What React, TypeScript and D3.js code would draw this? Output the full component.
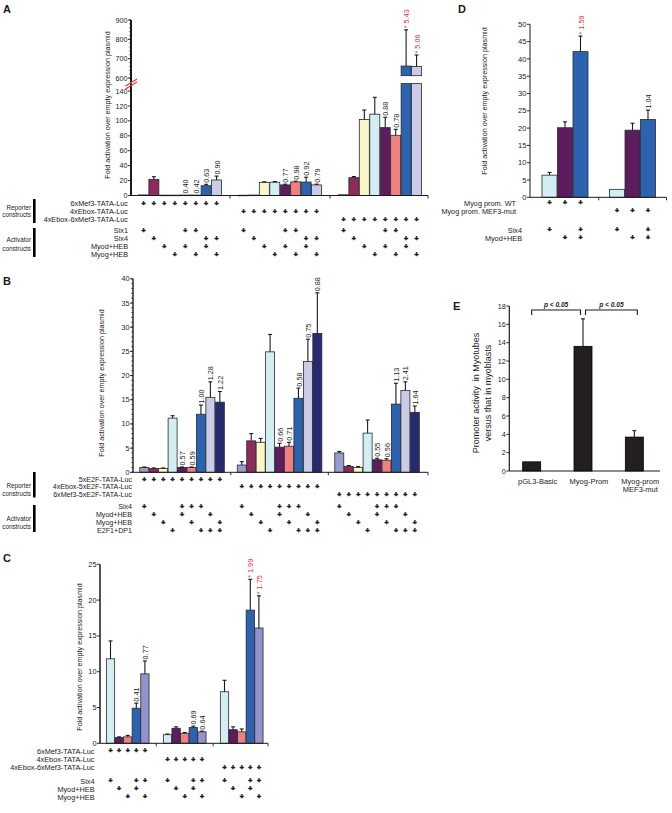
import React from "react";
import * as d3 from "d3";

// ---------------- data ----------------
const foldLabel = "Fold activation over empty expression plasmid";

// Panel A
const aReporters = ["6xMef3-TATA-Luc", "4xEbox-TATA-Luc", "4xEbox-6xMef3-TATA-Luc"];
const aActivators = ["Six1", "Six4", "Myod+HEB", "Myog+HEB"];
const aCombos = [[0], [1], [2], [3], [0, 2], [0, 3], [1, 2], [1, 3]];
const aValues = [
  [0.8, 21.7, 0.5, 0.5, 0.6, 0.6, 13.1, 20.8],
  [0.4, 0.6, 17.6, 17.8, 14.2, 18.2, 18.0, 14.2],
  [1.0, 23.9, 102, 109, 91, 80.7, 662, 660],
];
const aErrors = [
  [0, 3.5, 0, 0, 0, 0, 1.9, 5.2],
  [0, 0, 0.8, 0.8, 1.0, 1.0, 6.5, 1.0],
  [0, 1.5, 12.6, 22.6, 13.8, 8, 187, 59],
];
const aLabels = [
  ["", "", "", "", "0.40", "0.42", "0.63", "0.90"],
  ["", "", "", "", "0.77", "0.98", "0.92", "0.79"],
  ["", "", "", "", "0.88", "0.78", "* 5.43", "* 5.06"],
];
const aTicksLow = [0, 20, 40, 60, 80, 100, 120, 140];
const aTicksHigh = [600, 700, 800, 900];

// Panel B
const bReporters = ["5xE2F-TATA-Luc", "4xEbox-5xE2F-TATA-Luc", "6xMef3-5xE2F-TATA-Luc"];
const bActivators = ["Six4", "Myod+HEB", "Myog+HEB", "E2F1+DP1"];
const bCombos = [[0], [1], [2], [3], [0, 1], [0, 2], [0, 3], [1, 3], [2, 3]];
const bValues = [
  [1.0, 0.8, 0.8, 11.2, 1.0, 1.0, 12.0, 15.5, 14.5],
  [1.5, 6.5, 6.2, 24.9, 5.2, 5.4, 15.3, 22.9, 28.7],
  [4.0, 1.2, 1.0, 8.1, 2.6, 2.5, 14.1, 16.9, 12.4],
];
const bErrors = [
  [0.1, 0.1, 0.1, 0.5, 0.1, 0.1, 1.9, 3.2, 2.2],
  [0.7, 1.5, 0.8, 3.6, 0.8, 0.8, 2.1, 4.6, 8.4],
  [0.3, 0.2, 0.2, 2.7, 0.3, 0.3, 4.3, 1.8, 1.3],
];
const bLabels = [
  ["", "", "", "", "0.57", "0.59", "1.00", "1.28", "1.22"],
  ["", "", "", "", "0.66", "0.71", "0.58", "0.75", "0.88"],
  ["", "", "", "", "0.55", "0.56", "1.13", "2.41", "1.64"],
];
const bTicks = [0, 5, 10, 15, 20, 25, 30, 35, 40];

// Panel C
const cReporters = ["6xMef3-TATA-Luc", "4xEbox-TATA-Luc", "4xEbox-6xMef3-TATA-Luc"];
const cActivators = ["Six4", "Myod+HEB", "Myog+HEB"];
const cCombos = [[0], [1], [2], [0, 1], [0, 2]];
const cValues = [
  [11.8, 0.8, 0.9, 4.9, 9.7],
  [1.2, 2.1, 1.4, 2.2, 1.6],
  [7.2, 1.9, 1.6, 18.6, 16.1],
];
const cErrors = [
  [2.5, 0.1, 0.2, 0.7, 1.8],
  [0.1, 0.2, 0.1, 0.2, 0.1],
  [1.6, 0.4, 0.4, 4.3, 4.5],
];
const cLabels = [
  ["", "", "", "0.41", "0.77"],
  ["", "", "", "0.69", "0.64"],
  ["", "", "", "* 1.99", "* 1.75"],
];
const cTicks = [0, 5, 10, 15, 20, 25];

// Panel D
const dReporters = ["Myog prom. WT", "Myog prom. MEF3-mut"];
const dActivators = ["Six4", "Myod+HEB"];
const dCombos = [[0], [1], [0, 1]];
const dValues = [
  [6.4, 20.1, 42.1],
  [2.3, 19.4, 22.5],
];
const dErrors = [
  [0.8, 1.7, 4.5],
  [0, 2.0, 2.7],
];
const dLabels = [
  ["", "", "* 1.59"],
  ["", "", "1.04"],
];
const dTicks = [0, 5, 10, 15, 20, 25, 30, 35, 40, 45, 50];

// Panel E
const eCategories = [["pGL3-Basic"], ["Myog-Prom"], ["Myog-prom", "MEF3-mut"]];
const eValues = [1.0, 13.6, 3.7];
const eErrors = [0, 3.0, 0.7];
const ePairs: [number, number, string][] = [
  [0, 1, "p < 0.05"],
  [1, 2, "p < 0.05"],
];
const eTicks = [0, 2, 4, 6, 8, 10, 12, 14, 16, 18];
const eAxisLabel = ["Promoter activity  in Myotubes", "versus that in myoblasts"];

// ---------------- styles ----------------
const FONT = "'Liberation Sans', Arial, Helvetica, sans-serif";
const MAROON = "#8e2b5c";
const YELLOW = "#f9f7c8";
const CYAN = "#d3eef3";
const PURPLE = "#5b1d5e";
const SALMON = "#ef8080";
const BLUE = "#2c63b0";
const LAV = "#cacbe6";
const NAVY = "#262b6f";
const GREYLAV = "#9c9ccc";
const PERI = "#9292cc";
const GREY = "#a8a8b8";
const STROKE = "#2a2a2a";
const INK = "#1a1a1a";

type Scale = (v: number) => number;

function YAxis(props: {
  x: number;
  scale: Scale;
  ticks: number[];
  minor?: number[];
  top: number;
  bottom: number;
  sw?: number;
  fs?: number;
}) {
  const { x, scale, ticks, minor = [], top, bottom, sw = 1, fs = 7.5 } = props;
  return (
    <g>
      <line x1={x} x2={x} y1={top} y2={bottom} stroke={INK} strokeWidth={sw} />
      {minor.map((t) => (
        <line key={"m" + t} x1={x - 1.8} x2={x} y1={scale(t)} y2={scale(t)} stroke={INK} strokeWidth={0.7} />
      ))}
      {ticks.map((t) => (
        <g key={t}>
          <line x1={x - 3} x2={x} y1={scale(t)} y2={scale(t)} stroke={INK} strokeWidth={0.9} />
          <text x={x - 3.5} y={scale(t)} dy="0.35em" textAnchor="end" fontSize={fs} fill={INK}>
            {t}
          </text>
        </g>
      ))}
    </g>
  );
}

function AxisTitle({ x, cy, text, fs = 7.2 }: { x: number; cy: number; text: string; fs?: number }) {
  return (
    <text
      transform={`translate(${x},${cy}) rotate(-90)`}
      textAnchor="middle"
      dy="0.35em"
      fontSize={fs}
      fill={INK}
      style={{ whiteSpace: "pre" }}
    >
      {text}
    </text>
  );
}

function Plus({ x, y }: { x: number; y: number }) {
  return (
    <text x={x} y={y} dy="0.36em" textAnchor="middle" fontSize={6.9} fontWeight="bold"
      fill={INK} stroke={INK} strokeWidth={0.5}>
      +
    </text>
  );
}

function GroupedPanel(props: {
  reporters: string[];
  activators: string[];
  combos: number[][];
  values: number[][];
  errors: number[][];
  labels: string[][];
  colors: string[];
  groupRange: [number, number];
  half: number;
  barW: number;
  y: Scale;
  segs?: (v: number) => [number, number][];
  axisX: number;
  axisEnd: number;
  repY: number[];
  actY: number[];
  repLabelX: number;
  actLabelX: number;
  rowFs?: number;
  labelFs?: number;
}) {
  const {
    reporters, activators, combos, values, errors, labels, colors, groupRange, half, barW, y,
    segs, axisX, axisEnd, repY, actY, repLabelX, actLabelX, rowFs = 7.3, labelFs = 7.3,
  } = props;
  const nG = values.length;
  const nB = values[0].length;
  const xg = d3.scaleBand<number>().domain(d3.range(nG)).range(groupRange);
  const xi = d3.scaleBand<number>().domain(d3.range(nB)).range([-half, half]);
  const cx = (g: number, b: number) =>
    (xg(g) as number) + xg.bandwidth() / 2 + (xi(b) as number) + xi.bandwidth() / 2;
  const y0 = y(0);
  const segFn = segs ?? ((v: number) => [[y(v), y0]] as [number, number][]);
  const seps = d3.range(1, nG).map((g) => xg(g) as number);

  const els: React.ReactNode[] = [];
  values.forEach((row, g) =>
    row.forEach((v, b) => {
      const x = cx(g, b);
      segFn(v).forEach(([t, bt], k) =>
        els.push(
          <rect key={`r${g}-${b}-${k}`} x={x - barW / 2} y={t} width={barW} height={Math.max(0.6, bt - t)}
            fill={colors[b]} stroke={STROKE} strokeWidth={0.8} />
        )
      );
      const e = errors[g][b];
      const top = y(v + e);
      if (e > 0) {
        els.push(
          <g key={`e${g}-${b}`} stroke={INK} strokeWidth={1.1}>
            <line x1={x} x2={x} y1={y(v)} y2={top} />
            <line x1={x - 2} x2={x + 2} y1={top} y2={top} />
          </g>
        );
      }
      const lab = labels[g][b];
      if (lab) {
        els.push(
          <text key={`l${g}-${b}`} transform={`translate(${x + 0.5},${top - 1.5}) rotate(-90)`}
            dy="0.35em" fontSize={labelFs} fill={lab.startsWith("*") ? "#e0343c" : INK}>
            {lab}
          </text>
        );
      }
    })
  );

  return (
    <g>
      {els}
      <line x1={axisX} x2={axisEnd} y1={y0} y2={y0} stroke={INK} strokeWidth={1} />
      {seps.map((s) => (
        <line key={"s" + s} x1={s} x2={s} y1={y0} y2={y0 + 3} stroke={INK} strokeWidth={0.9} />
      ))}
      <line x1={axisEnd} x2={axisEnd} y1={y0} y2={y0 + 3} stroke={INK} strokeWidth={0.9} />
      {reporters.map((r, ri) => (
        <g key={"rep" + ri}>
          <text x={repLabelX} y={repY[ri]} dy="0.35em" textAnchor="end" fontSize={rowFs} fill={INK}>
            {r}
          </text>
          {d3.range(nB).map((b) => <Plus key={`rp${ri}-${b}`} x={cx(ri, b)} y={repY[ri]} />)}
        </g>
      ))}
      {activators.map((a, ai) => (
        <g key={"act" + ai}>
          <text x={actLabelX} y={actY[ai]} dy="0.35em" textAnchor="end" fontSize={rowFs} fill={INK}>
            {a}
          </text>
          {d3.range(nG).map((g) =>
            combos.map((c, b) =>
              c.includes(ai) ? <Plus key={`ap${ai}-${g}-${b}`} x={cx(g, b)} y={actY[ai]} /> : null
            )
          )}
        </g>
      ))}
    </g>
  );
}

function SideLabel({ lines, ys, barTop, barBottom }: { lines: string[]; ys: number[]; barTop: number; barBottom: number }) {
  return (
    <g>
      {lines.map((l, i) => (
        <text key={i} x={31} y={ys[i]} dy="0.35em" textAnchor="end" fontSize={6.3} fill={INK}>
          {l}
        </text>
      ))}
      <rect x={33} y={barTop} width={2.6} height={barBottom - barTop} fill="#000" />
    </g>
  );
}

export default function App() {
  // ----- Panel A scales (broken axis) -----
  const aLow = d3.scaleLinear().domain([0, 150]).range([195.5, 83.6]);
  const aHigh = d3.scaleLinear().domain([600, 900]).range([78, 20]);
  const aY: Scale = (v) => (v <= 150 ? aLow(v) : aHigh(v));
  const aSegs = (v: number): [number, number][] =>
    v <= 150 ? [[aLow(v), aLow(0)]] : [[aLow(150), aLow(0)], [aHigh(v), aHigh(612)]];
  const aColors = [GREY, MAROON, YELLOW, CYAN, PURPLE, SALMON, BLUE, LAV];

  // ----- Panel B -----
  const bY = d3.scaleLinear().domain([0, 40]).range([472.3, 278.8]);
  const bColors = [GREYLAV, MAROON, YELLOW, CYAN, PURPLE, SALMON, BLUE, LAV, NAVY];

  // ----- Panel C -----
  const cY = d3.scaleLinear().domain([0, 25]).range([743.3, 564.3]);
  const cColors = [CYAN, PURPLE, SALMON, BLUE, PERI];

  // ----- Panel D -----
  const dY = d3.scaleLinear().domain([0, 50]).range([197.3, 24.3]);
  const dColors = [CYAN, PURPLE, BLUE];

  // ----- Panel E -----
  const eY = d3.scaleLinear().domain([0, 18]).range([471, 306]);
  const eX = d3.scaleBand<number>().domain(d3.range(eValues.length)).range([506, 660]);
  const eC = (i: number) => (eX(i) as number) + eX.bandwidth() / 2;

  return (
    <svg width={672} height={813} style={{ position: "absolute", left: 0, top: 0, background: "#fff" }}
      fontFamily={FONT}>
      <rect x={0} y={0} width={672} height={813} fill="#fff" />

      {/* ================= A ================= */}
      <text x={3} y={13} fontSize={11} fontWeight="bold" fill={INK}>A</text>
      <YAxis x={131} scale={aLow} ticks={aTicksLow} top={83.6} bottom={195.5} sw={2} fs={7.2} />
      <YAxis x={131} scale={aHigh} ticks={aTicksHigh} minor={d3.range(600, 901, 20)} top={20} bottom={83.6} sw={2} fs={7.2} />
      <g stroke="#e0343c" strokeWidth={1.1}>
        <line x1={125.5} x2={137} y1={89} y2={82} />
        <line x1={125.5} x2={137} y1={86} y2={79} />
      </g>
      <AxisTitle x={107} cy={105} text={foldLabel} />
      <GroupedPanel
        reporters={aReporters} activators={aActivators} combos={aCombos}
        values={aValues} errors={aErrors} labels={aLabels} colors={aColors}
        groupRange={[130, 430]} half={41.8} barW={10} y={aY} segs={aSegs}
        axisX={131} axisEnd={428}
        repY={[203.3, 211.2, 219.1]} actY={[230.5, 238.5, 246.5, 254.5]}
        repLabelX={128} actLabelX={128}
      />
      <SideLabel lines={["Reporter", "constructs"]} ys={[207.3, 215]} barTop={199} barBottom={223} />
      <SideLabel lines={["Activator", "constructs"]} ys={[240, 248.7]} barTop={228} barBottom={257} />

      {/* ================= B ================= */}
      <text x={3} y={285} fontSize={11} fontWeight="bold" fill={INK}>B</text>
      <YAxis x={133} scale={bY} ticks={bTicks} minor={d3.range(0, 41)} top={278.8} bottom={472.3} sw={1.4} fs={7.2} />
      <AxisTitle x={101} cy={383} text={foldLabel} />
      <GroupedPanel
        reporters={bReporters} activators={bActivators} combos={bCombos}
        values={bValues} errors={bErrors} labels={bLabels} colors={bColors}
        groupRange={[133.3, 425.8]} half={42.5} barW={9} y={bY}
        axisX={133} axisEnd={428}
        repY={[479.3, 486.9, 494.5]} actY={[506.5, 514.5, 522.5, 530.5]}
        repLabelX={132} actLabelX={132} rowFs={7.1}
      />
      <SideLabel lines={["Reporter", "constructs"]} ys={[485.3, 493.3]} barTop={472} barBottom={497.5} />
      <SideLabel lines={["Activator", "constructs"]} ys={[518.7, 526.5]} barTop={505} barBottom={532} />

      {/* ================= C ================= */}
      <text x={3} y={562} fontSize={11} fontWeight="bold" fill={INK}>C</text>
      <YAxis x={100} scale={cY} ticks={cTicks} top={564.3} bottom={743.3} sw={1.5} fs={7.4} />
      <AxisTitle x={79} cy={657} text={foldLabel} />
      <GroupedPanel
        reporters={cReporters} activators={cActivators} combos={cCombos}
        values={cValues} errors={cErrors} labels={cLabels} colors={cColors}
        groupRange={[99.2, 270.2]} half={21.5} barW={8.3} y={cY}
        axisX={100} axisEnd={268}
        repY={[751, 759.3, 767.3]} actY={[781, 789, 797]}
        repLabelX={94.5} actLabelX={94.5}
      />

      {/* ================= D ================= */}
      <text x={458} y={13} fontSize={11} fontWeight="bold" fill={INK}>D</text>
      <YAxis x={530} scale={dY} ticks={dTicks} top={24.3} bottom={197.3} sw={1} fs={7.6} />
      <AxisTitle x={484} cy={101} text={foldLabel} />
      <GroupedPanel
        reporters={dReporters} activators={dActivators} combos={dCombos}
        values={dValues} errors={dErrors} labels={dLabels} colors={dColors}
        groupRange={[531.25, 666.25]} half={23.25} barW={15} y={dY}
        axisX={530} axisEnd={666.5}
        repY={[203, 211]} actY={[230, 238]}
        repLabelX={516} actLabelX={522}
      />

      {/* ================= E ================= */}
      <text x={453} y={310} fontSize={11} fontWeight="bold" fill={INK}>E</text>
      <YAxis x={509.3} scale={eY} ticks={eTicks} top={306} bottom={471} sw={1.2} fs={7.2} />
      <AxisTitle x={476} cy={393} text={eAxisLabel[0]} fs={9} />
      <AxisTitle x={488} cy={393} text={eAxisLabel[1]} fs={9} />
      <line x1={509.3} x2={660} y1={eY(0)} y2={eY(0)} stroke={INK} strokeWidth={1} />
      {eValues.map((v, i) => (
        <g key={"eb" + i}>
          <rect x={eC(i) - 9} y={eY(v)} width={18} height={eY(0) - eY(v)} fill="#231f20" stroke="#000" strokeWidth={0.8} />
          {eErrors[i] > 0 && (
            <g stroke={INK} strokeWidth={1.1}>
              <line x1={eC(i)} x2={eC(i)} y1={eY(v)} y2={eY(v + eErrors[i])} />
              <line x1={eC(i) - 2} x2={eC(i) + 2} y1={eY(v + eErrors[i])} y2={eY(v + eErrors[i])} />
            </g>
          )}
          {eCategories[i].map((t, k) => (
            <text key={k} x={eC(i) + 6} y={481 + k * 8.5} dy="0.35em" textAnchor="middle" fontSize={7.5} fill={INK}>
              {t}
            </text>
          ))}
        </g>
      ))}
      {ePairs.map(([a, b, t], i) => {
        const x1 = eC(a) + (i === 0 ? 0 : 2.5);
        const x2 = eC(b) + (i === 0 ? -2.5 : 3);
        return (
          <g key={"ep" + i}>
            <path d={`M${x1},315 V310 H${x2} V315`} fill="none" stroke={INK} strokeWidth={1.1} />
            <text x={(x1 + x2) / 2} y={305} dy="0.35em" textAnchor="middle" fontSize={6.6}
              fontWeight="bold" fontStyle="italic" fill={INK}>
              {t}
            </text>
          </g>
        );
      })}
    </svg>
  );
}
